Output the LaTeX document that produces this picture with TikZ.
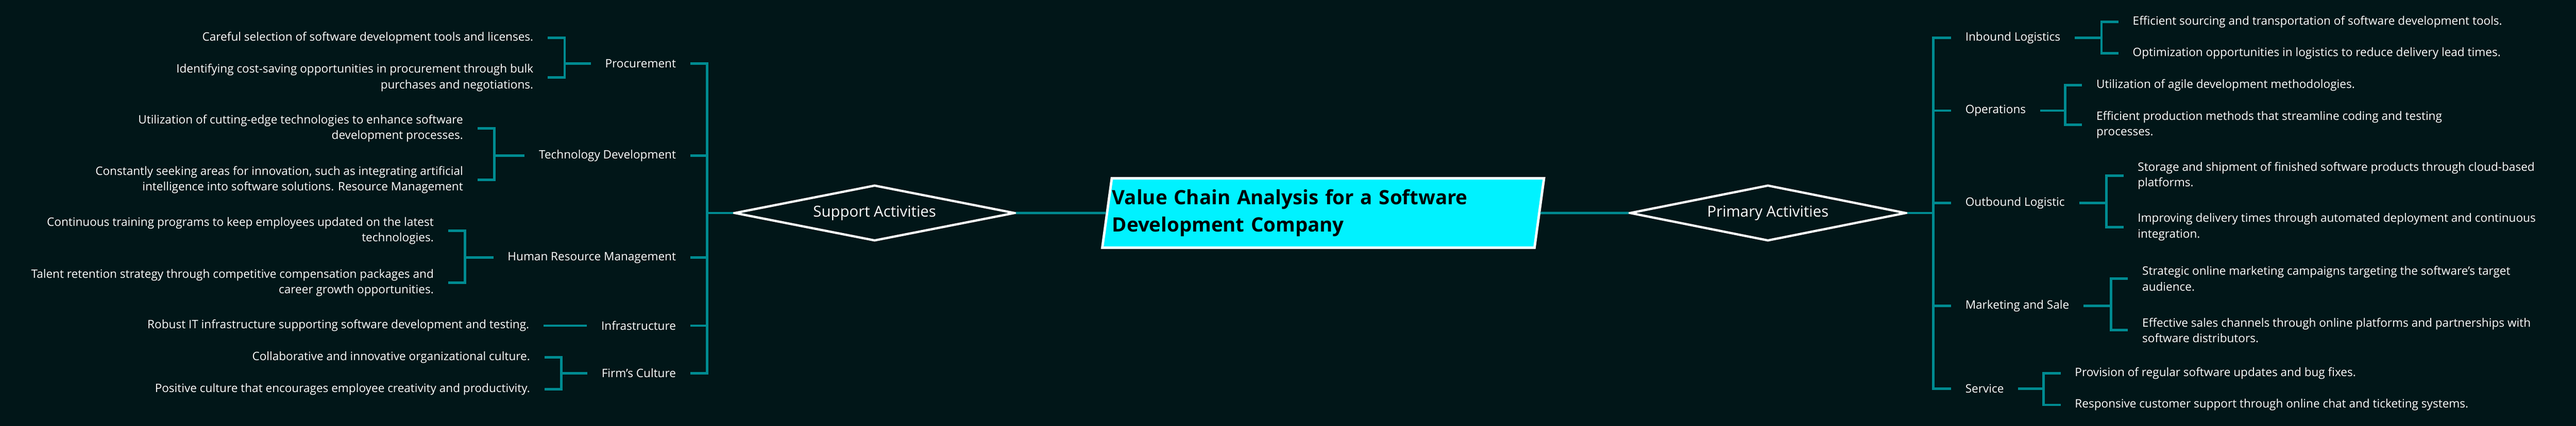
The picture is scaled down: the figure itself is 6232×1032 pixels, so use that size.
\documentclass[tikz,border=0pt]{standalone}
\usepackage{fontspec}
\setmainfont{Open Sans}
\usepackage{tikz}
\usetikzlibrary{shapes.geometric}
\definecolor{bgdark}{RGB}{1, 22, 24}
\definecolor{linkteal}{RGB}{0, 139, 145}
\definecolor{titlecyan}{RGB}{0, 242, 255}

\begin{document}
\begin{tikzpicture}[x=0.01cm, y=-0.01cm,
  cat/.style={text=white, font=\fontsize{8}{10.8}\selectfont, inner xsep=0.34cm, inner ysep=0.05cm},
  leafL/.style={cat, anchor=east, align=right},
  leafR/.style={cat, anchor=west, align=left},
  hub/.style={diamond, draw=white, line width=0.055cm, aspect=5, minimum height=1.35cm,
              inner sep=0pt, text=white, font=\fontsize{10.4}{12}\selectfont},
  link/.style={linkteal, line width=0.06cm},
]
\useasboundingbox (0,0) rectangle (6232,1032);
\fill[bgdark] (0,0) rectangle (6232,1032);

% Centre
\node[trapezium, trapezium left angle=80.5, trapezium right angle=99.5, trapezium stretches body,
      draw=white, line width=0.06cm, fill=titlecyan, minimum width=10.67cm, minimum height=1.68cm,
      text width=10.2cm, align=left, inner xsep=0.01cm, text=black,
      font=\bfseries\fontsize{13.6}{18.8}\selectfont] (title) at (3201,516)
{Value Chain Analysis for a Software\\Development Company};
\node[hub, minimum width=6.78cm] (sup) at (2116,516) {Support Activities};
\node[hub, minimum width=6.68cm] (prim) at (4277,516) {Primary Activities};

% Bus and bracket columns
\coordinate (xL) at (1711,0);
\coordinate (xproc) at (1366,0);
\coordinate (xtech) at (1196,0);
\coordinate (xhrm) at (1125,0);
\coordinate (xfirm) at (1358,0);
\coordinate (xR) at (4677,0);
\coordinate (xinb) at (5084,0);
\coordinate (xops) at (4996,0);
\coordinate (xoutb) at (5096,0);
\coordinate (xmkt) at (5107,0);
\coordinate (xserv) at (4944,0);

% Support activities
\node[cat, anchor=east] (proc) at (1670,154) {Procurement};
\node[cat, anchor=east] (tech) at (1670,377) {Technology Development};
\node[cat, anchor=east] (hrm) at (1670,624) {Human Resource Management};
\node[cat, anchor=east] (infra) at (1670,789) {Infrastructure};
\node[cat, anchor=east] (firm) at (1670,904) {Firm's Culture};

\node[leafL] (proc1) at (1325,92) {Careful selection of software development tools and licenses.};
\node[leafL] (proc2) at (1325,188) {Identifying cost-saving opportunities in procurement through bulk\\
purchases and negotiations.};
\node[leafL] (tech1) at (1155,311) {Utilization of cutting-edge technologies to enhance software\\
development processes.};
\node[leafL] (tech2) at (1155,436) {Constantly seeking areas for innovation, such as integrating artificial\\
intelligence into software solutions. Resource Management};
\node[leafL] (hrm1) at (1084,559) {Continuous training programs to keep employees updated on the latest\\
technologies.};
\node[leafL] (hrm2) at (1084,685) {Talent retention strategy through competitive compensation packages and\\
career growth opportunities.};
\node[leafL] (infra1) at (1315,789) {Robust IT infrastructure supporting software development and testing.};
\node[leafL] (firm1) at (1317,866) {Collaborative and innovative organizational culture.};
\node[leafL] (firm2) at (1317,943) {Positive culture that encourages employee creativity and productivity.};

% Primary activities
\node[cat, anchor=west] (inb) at (4720,92) {Inbound Logistics};
\node[cat, anchor=west] (ops) at (4720,268) {Operations};
\node[cat, anchor=west] (outb) at (4720,492) {Outbound Logistic};
\node[cat, anchor=west] (mkt) at (4720,741) {Marketing and Sale};
\node[cat, anchor=west] (serv) at (4720,942) {Service};

\node[leafR] (inb1) at (5125,53) {Efficient sourcing and transportation of software development tools.};
\node[leafR] (inb2) at (5125,129) {Optimization opportunities in logistics to reduce delivery lead times.};
\node[leafR] (ops1) at (5037,206) {Utilization of agile development methodologies.};
\node[leafR] (ops2) at (5037,302) {Efficient production methods that streamline coding and testing\\
processes.};
\node[leafR] (outb1) at (5137,426) {Storage and shipment of finished software products through cloud-based\\
platforms.};
\node[leafR] (outb2) at (5137,550) {Improving delivery times through automated deployment and continuous\\
integration.};
\node[leafR] (mkt1) at (5148,675) {Strategic online marketing campaigns targeting the software's target\\
audience.};
\node[leafR] (mkt2) at (5148,800) {Effective sales channels through online platforms and partnerships with\\
software distributors.};
\node[leafR] (serv1) at (4985,904) {Provision of regular software updates and bug fixes.};
\node[leafR] (serv2) at (4985,981) {Responsive customer support through online chat and ticketing systems.};

% Connectors, centre
\draw[link] (sup.east) -- (title.west);
\draw[link] (title.east) -- (prim.west);

% Connectors, support side
\draw[link] (sup.west) -- (sup.west -| xL) |- (proc.east);
\draw[link] (sup.west -| xL) |- (tech.east);
\draw[link] (sup.west -| xL) |- (hrm.east);
\draw[link] (sup.west -| xL) |- (infra.east);
\draw[link] (sup.west -| xL) |- (firm.east);
\draw[link] (proc.west) -- (proc.west -| xproc) |- (proc1.east);
\draw[link] (proc.west -| xproc) |- (proc2.east);
\draw[link] (tech.west) -- (tech.west -| xtech) |- (tech1.east);
\draw[link] (tech.west -| xtech) |- (tech2.east);
\draw[link] (hrm.west) -- (hrm.west -| xhrm) |- (hrm1.east);
\draw[link] (hrm.west -| xhrm) |- (hrm2.east);
\draw[link] (infra.west) -- (infra1.east);
\draw[link] (firm.west) -- (firm.west -| xfirm) |- (firm1.east);
\draw[link] (firm.west -| xfirm) |- (firm2.east);

% Connectors, primary side
\draw[link] (prim.east) -- (prim.east -| xR) |- (inb.west);
\draw[link] (prim.east -| xR) |- (ops.west);
\draw[link] (prim.east -| xR) |- (outb.west);
\draw[link] (prim.east -| xR) |- (mkt.west);
\draw[link] (prim.east -| xR) |- (serv.west);
\draw[link] (inb.east) -- (inb.east -| xinb) |- (inb1.west);
\draw[link] (inb.east -| xinb) |- (inb2.west);
\draw[link] (ops.east) -- (ops.east -| xops) |- (ops1.west);
\draw[link] (ops.east -| xops) |- (ops2.west);
\draw[link] (outb.east) -- (outb.east -| xoutb) |- (outb1.west);
\draw[link] (outb.east -| xoutb) |- (outb2.west);
\draw[link] (mkt.east) -- (mkt.east -| xmkt) |- (mkt1.west);
\draw[link] (mkt.east -| xmkt) |- (mkt2.west);
\draw[link] (serv.east) -- (serv.east -| xserv) |- (serv1.west);
\draw[link] (serv.east -| xserv) |- (serv2.west);
\end{tikzpicture}
\end{document}
